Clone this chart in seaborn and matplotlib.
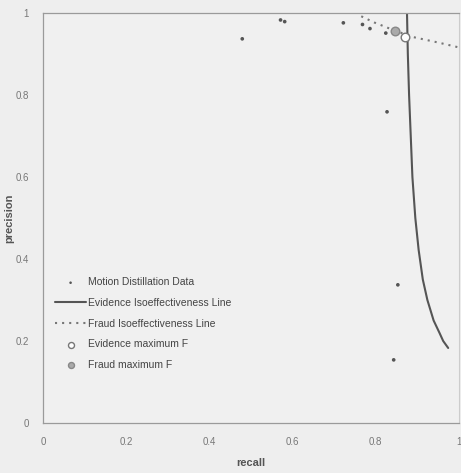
import matplotlib
matplotlib.use('Agg')
import matplotlib.pyplot as plt
import seaborn as sns
import pandas as pd

# ---- data ----
data_recall = [0.479, 0.571, 0.581, 0.722, 0.768, 0.786, 0.824, 0.827, 0.853, 0.843]
data_precision = [0.937, 0.983, 0.979, 0.976, 0.972, 0.962, 0.951, 0.759, 0.337, 0.154]

ev_recall = [0.875, 0.877, 0.880, 0.884, 0.888, 0.895, 0.903, 0.913, 0.924, 0.939, 0.953, 0.962, 0.974]
ev_precision = [1.000, 0.900, 0.800, 0.700, 0.600, 0.500, 0.422, 0.350, 0.300, 0.250, 0.220, 0.200, 0.183]

fr_recall = [0.765, 0.796, 0.846, 0.891, 0.950, 1.000]
fr_precision = [0.992, 0.977, 0.957, 0.941, 0.928, 0.916]

ev_max_recall = [0.871]
ev_max_precision = [0.942]
fr_max_recall = [0.846]
fr_max_precision = [0.957]

labels = ['Motion Distillation Data', 'Evidence Isoeffectiveness Line',
          'Fraud Isoeffectiveness Line', 'Evidence maximum F', 'Fraud maximum F']
ticks = [0, 0.2, 0.4, 0.6, 0.8, 1]
tick_labels = ['0', '0.2', '0.4', '0.6', '0.8', '1']

sns.set_theme(style='white')
plt.rcParams['font.family'] = ['Liberation Sans', 'DejaVu Sans']

fig = plt.figure(figsize=(4.61, 4.73), dpi=100, facecolor='#eeeeee')
ax = fig.add_axes([43 / 461, 50 / 473, 416 / 461, 410 / 473])
ax.set_facecolor('#f0f0f0')

sns.lineplot(x=ev_recall, y=ev_precision, sort=False, estimator=None,
             color='#555555', lw=1.5, label=labels[1], ax=ax)
sns.lineplot(x=fr_recall, y=fr_precision, sort=False, estimator=None,
             color='#777777', lw=1.5, linestyle=(0, (1, 2.4)), label=labels[2], ax=ax)
sns.scatterplot(x=data_recall, y=data_precision, s=7, color='#555555',
                edgecolor='none', label=labels[0], ax=ax, zorder=3)
sns.scatterplot(x=ev_max_recall, y=ev_max_precision, s=38, color='white',
                edgecolor='#777777', linewidth=1, label=labels[3], ax=ax, zorder=4)
sns.scatterplot(x=fr_max_recall, y=fr_max_precision, s=38, color='#aaaaaa',
                edgecolor='#888888', linewidth=1, label=labels[4], ax=ax, zorder=4)

ax.set_xlim(0, 1)
ax.set_ylim(0, 1)
ax.set_xticks(ticks)
ax.set_xticklabels(tick_labels)
ax.set_yticks(ticks)
ax.set_yticklabels(tick_labels)
ax.tick_params(axis='both', labelsize=7, labelcolor='#777777', color='#999999',
               length=3, width=0.8, direction='out', pad=7)

for side in ['left', 'bottom', 'top']:
    ax.spines[side].set_color('#9a9a9a')
    ax.spines[side].set_linewidth(0.9)
ax.spines['right'].set_color('#cccccc')
ax.spines['right'].set_linewidth(0.8)

ax.set_xlabel('recall', fontsize=8, fontweight='bold', color='#555555')
ax.set_ylabel('precision', fontsize=8, fontweight='bold', color='#555555')
ax.xaxis.set_label_coords(0.5, -0.085)
ax.yaxis.set_label_coords(-0.068, 0.5)

h, l = ax.get_legend_handles_labels()
hm = dict(zip(l, h))
leg = ax.legend([hm[k] for k in labels], labels, loc='upper left',
                bbox_to_anchor=(0.03, 0.355), borderaxespad=0, borderpad=0,
                frameon=False, fontsize=7.5, handlelength=2.9, handletextpad=0.2,
                labelspacing=1.02, markerscale=0.7)
for t in leg.get_texts():
    t.set_color('#444444')

fig.savefig('out.png', dpi=100, facecolor=fig.get_facecolor())
